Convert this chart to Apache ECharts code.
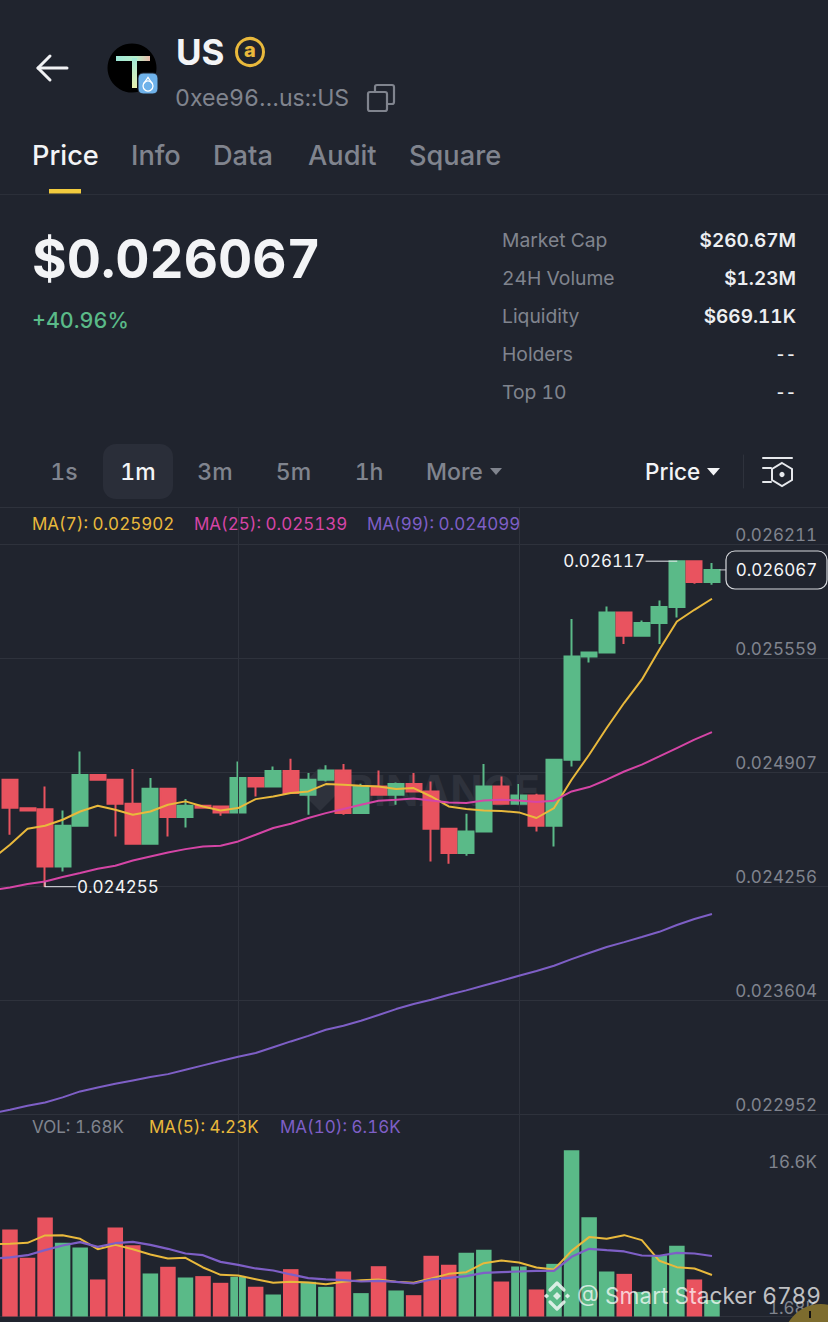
<!DOCTYPE html>
<html><head><meta charset="utf-8">
<script src="https://cdn.jsdelivr.net/npm/echarts@6/dist/echarts.min.js"></script>
<style>html,body{margin:0;padding:0;background:#20242e}#c{width:828px;height:1322px}#c text{font-feature-settings:"tnum" 1 !important;font-variant-numeric:tabular-nums !important}</style>
</head><body><div id="c"></div>
<script>
const priceTicks=[0.022952,0.023604,0.024256,0.024907,0.025559,0.026211];
const priceTickLabels=['0.022952','0.023604','0.024256','0.024907','0.025559','0.026211'];
const volTicks=[1.68,16.6];
const volTickLabels=['1.68K','16.6K'];
const open=[0.024867,0.024704,0.024698,0.024371,0.024604,0.024894,0.024867,0.024730,0.024501,0.024815,0.024653,0.024718,0.024714,0.024680,0.024877,0.024828,0.024917,0.024781,0.024867,0.024920,0.024676,0.024828,0.024781,0.024842,0.024800,0.024587,0.024448,0.024571,0.024828,0.024730,0.024777,0.024604,0.024981,0.025572,0.025595,0.025824,0.025690,0.025763,0.025855,0.026117,0.025998];
const close=[0.024707,0.024691,0.024371,0.024604,0.024894,0.024867,0.024730,0.024501,0.024815,0.024653,0.024718,0.024707,0.024680,0.024877,0.024828,0.024917,0.024791,0.024867,0.024920,0.024676,0.024828,0.024781,0.024842,0.024800,0.024587,0.024448,0.024571,0.024828,0.024730,0.024777,0.024604,0.024981,0.025572,0.025595,0.025824,0.025690,0.025763,0.025855,0.026117,0.025998,0.026067];
const low=[0.024552,0.024691,0.024255,0.024342,0.024604,0.024867,0.024542,0.024501,0.024501,0.024542,0.024594,0.024707,0.024661,0.024680,0.024771,0.024828,0.024791,0.024667,0.024857,0.024667,0.024676,0.024781,0.024724,0.024800,0.024399,0.024386,0.024432,0.024571,0.024730,0.024730,0.024571,0.024485,0.024943,0.025538,0.025595,0.025643,0.025690,0.025643,0.025795,0.025988,0.025982];
const high=[0.024867,0.024704,0.024828,0.024691,0.025029,0.024894,0.024867,0.024928,0.024877,0.024815,0.024756,0.024718,0.024714,0.024971,0.024877,0.024943,0.024987,0.024905,0.024949,0.024957,0.024844,0.024920,0.024851,0.024905,0.024857,0.024587,0.024672,0.024957,0.024886,0.024842,0.024787,0.024981,0.025786,0.025595,0.025858,0.025824,0.025778,0.025892,0.026117,0.026117,0.026106];
// first value of each MA belongs to the candle just off the left edge
const ma7=[0.024415,0.024495,0.024587,0.024604,0.024638,0.024685,0.024718,0.024695,0.024667,0.024685,0.024724,0.024743,0.024714,0.024691,0.024705,0.024756,0.024771,0.024791,0.024800,0.024842,0.024838,0.024832,0.024828,0.024814,0.024819,0.024771,0.024714,0.024699,0.024691,0.024688,0.024680,0.024648,0.024705,0.024867,0.025010,0.025163,0.025307,0.025439,0.025610,0.025772,0.025839,0.025902];
const ma25=[0.024235,0.024251,0.024270,0.024285,0.024310,0.024333,0.024358,0.024375,0.024405,0.024428,0.024451,0.024470,0.024485,0.024489,0.024514,0.024552,0.024591,0.024615,0.024648,0.024676,0.024699,0.024724,0.024747,0.024752,0.024760,0.024748,0.024737,0.024734,0.024748,0.024752,0.024748,0.024739,0.024747,0.024800,0.024825,0.024867,0.024914,0.024953,0.025000,0.025048,0.025096,0.025139];
const ma99=[0.022959,0.022979,0.023002,0.023021,0.023050,0.023084,0.023107,0.023128,0.023147,0.023166,0.023183,0.023208,0.023233,0.023258,0.023282,0.023304,0.023337,0.023370,0.023402,0.023437,0.023460,0.023488,0.023521,0.023555,0.023584,0.023608,0.023637,0.023662,0.023690,0.023717,0.023746,0.023773,0.023803,0.023841,0.023876,0.023910,0.023938,0.023967,0.023997,0.024036,0.024070,0.024099];
const volume=[8.86,5.97,10.08,7.50,7.02,3.77,9.06,7.26,4.38,5.06,3.97,4.11,3.43,4.04,3.02,2.24,4.82,3.53,3.02,4.58,2.38,5.12,2.65,2.17,6.18,5.26,6.48,6.79,3.56,5.09,2.75,5.36,16.93,10.11,4.58,4.34,2.51,6.24,7.19,3.77,1.68];
const volMa5=[7.35,7.40,7.50,8.25,8.28,7.91,6.85,7.29,6.85,6.31,5.90,5.97,4.99,4.24,4.17,3.80,3.43,3.53,3.46,3.29,3.53,3.70,3.77,3.53,3.43,3.87,4.34,4.51,5.43,5.70,5.50,4.99,4.78,6.68,8.08,7.91,8.28,7.77,5.67,5.02,4.89,4.23];
const volMa10=[5.90,6.01,6.24,6.75,7.23,7.57,7.09,7.46,7.60,7.29,6.89,6.41,6.24,5.56,5.26,4.89,4.68,4.28,3.90,3.77,3.70,3.56,3.63,3.53,3.36,3.77,3.94,4.11,4.44,4.51,4.58,4.65,4.65,6.07,6.89,6.75,6.62,6.21,6.18,6.48,6.41,6.16];
const gridIdx=[14,30];
const lowIdx=2, highIdx=38, lastIdx=40;

const BG='#20242e',UP='#5ABA88',DOWN='#E9535F',GRID='#2e323c',MUTED='#80848e',Y='#E9B93C',P='#D545A6',V='#7E5FC6';
const FONT='Inter, "Noto Sans", sans-serif';
const trail=7;
const cats=Array.from({length:1+open.length+trail},(_,i)=>String(i));
const pad=a=>a.concat(Array(cats.length-a.length).fill(null));
const candles=[['-','-','-','-']].concat(open.map((o,i)=>[o,close[i],low[i],high[i]])).concat(Array(trail).fill(['-','-','-','-']));
const bars=[null].concat(volume.map((v,i)=>({value:v,itemStyle:{color:close[i]>=open[i]?UP:DOWN}}))).concat(Array(trail).fill(null));
const vline={silent:true,symbol:'none',label:{show:false},lineStyle:{color:GRID,width:1,type:'solid'},data:gridIdx.map(i=>({xAxis:String(i)}))};
const line=(name,data,color,x,w)=>({name,type:'line',data:pad(data),xAxisIndex:x,yAxisIndex:x,symbol:'none',showSymbol:false,smooth:false,connectNulls:false,lineStyle:{color,width:w||2},z:5,silent:true});

const chart=echarts.init(document.getElementById('c'),null,{width:828,height:1322,renderer:'svg'});
const option={
 backgroundColor:BG,animation:false,
 grid:[{left:-16.35,top:507,width:859.95,height:607.5,outerBoundsMode:'none'},{left:-16.35,top:1114.5,width:859.95,height:202,outerBoundsMode:'none'}],
 xAxis:[
  {type:'category',gridIndex:0,data:cats,axisLine:{show:false},axisTick:{show:false},axisLabel:{show:false},splitLine:{show:false}},
  {type:'category',gridIndex:1,data:cats,axisLine:{show:true,lineStyle:{color:GRID}},axisTick:{show:false},axisLabel:{show:false},splitLine:{show:false}}],
 yAxis:[
  {type:'value',gridIndex:0,position:'right',min:0.022952,max:0.0264269,
   axisLine:{show:false},axisTick:{show:false,customValues:priceTicks},
   axisLabel:{inside:true,margin:26.6,customValues:priceTicks,color:MUTED,fontSize:17,fontFamily:FONT,verticalAlign:'bottom',lineHeight:19,formatter:v=>priceTickLabels[priceTicks.indexOf(v)]},
   splitLine:{show:true,lineStyle:{color:GRID,width:1}}},
  {type:'value',gridIndex:1,position:'right',min:0,max:20.56,
   axisLine:{show:false},axisTick:{show:false,customValues:volTicks},
   axisLabel:{inside:true,margin:26.6,customValues:volTicks,color:MUTED,fontSize:17,fontFamily:FONT,verticalAlign:'top',formatter:v=>volTickLabels[volTicks.indexOf(v)]},
   splitLine:{show:false}}],
 series:[
  {name:'Price',type:'candlestick',data:candles,xAxisIndex:0,yAxisIndex:0,barWidth:15.5,silent:true,
   itemStyle:{color:UP,color0:DOWN,borderColor:UP,borderColor0:DOWN,borderWidth:2},markLine:vline,z:3},
  line('MA7',ma7,Y,0),line('MA25',ma25,P,0),line('MA99',ma99,V,0),
  {name:'Volume',type:'bar',data:bars,xAxisIndex:1,yAxisIndex:1,barWidth:15.5,silent:true,markLine:vline,z:3},
  line('VolMA5',volMa5,Y,1),line('VolMA10',volMa10,V,1,2.2)
 ]
};
chart.setOption(option);

const t=(x,y,text,fill,size,weight,align,z)=>({type:'text',z:z||50,silent:true,style:{x,y:y,text,fill,font:(weight||400)+' '+size+'px '+FONT,textAlign:align||'left',textVerticalAlign:'middle'}});
const ln=(x1,y1,x2,y2,stroke,w,z)=>({type:'line',z:z||50,silent:true,shape:{x1,y1,x2,y2},style:{stroke,lineWidth:w||1,lineCap:'round'}});
const pl=(points,stroke,w,z)=>({type:'polyline',z:z||50,silent:true,shape:{points},style:{stroke,lineWidth:w,fill:null,lineCap:'round',lineJoin:'round'}});
const rr=(x,y,width,height,r,style,z)=>({type:'rect',z:z||50,silent:true,shape:{x,y,width,height,r},style});
const tri=(x,y,w,h,fill)=>({type:'polygon',z:50,silent:true,shape:{points:[[x,y],[x+w,y],[x+w/2,y+h]]},style:{fill}});

const g=[];
// header
g.push(pl([[50,56],[38,68],[50,80]],'#f1f2f4',3),ln(38,68,67,68,'#f1f2f4',3));
g.push({type:'circle',z:50,silent:true,shape:{cx:132,cy:68,r:24.5},style:{fill:'#000'}});
g.push(rr(116,56,34,5,0,{fill:new echarts.graphic.LinearGradient(0,0,1,0,[{offset:0,color:'#9fe8d8'},{offset:.6,color:'#b8eec8'},{offset:1,color:'#e8b8a8'}])}));
g.push(rr(132,58,5,30,0,{fill:new echarts.graphic.LinearGradient(0,0,0,1,[{offset:0,color:'#9fe8d8'},{offset:1,color:'#e8f0b0'}])}));
g.push(rr(138,73,20,21,5,{fill:'#6fb2ea',stroke:BG,lineWidth:1}));
g.push({type:'circle',z:51,silent:true,shape:{cx:148,cy:86,r:5},style:{fill:null,stroke:'#fff',lineWidth:1.3}});
g.push({type:'polyline',z:51,silent:true,shape:{points:[[143.8,83.5],[148,77.5],[152.2,83.5]]},style:{fill:null,stroke:'#fff',lineWidth:1.3}});
g.push(t(176,52,'US','#f3f4f6',35,700));
g.push({type:'circle',z:50,silent:true,shape:{cx:250,cy:52,r:13.5},style:{fill:null,stroke:'#E9B93C',lineWidth:3}});
g.push(t(250,50,'a','#E9B93C',20,800,'center'));
g.push(t(175,98,'0xee96…us::US',MUTED,23.1,400));
g.push(rr(375,85,19,19,2,{fill:null,stroke:MUTED,lineWidth:2.2}),rr(368,92,19,19,2,{fill:BG,stroke:MUTED,lineWidth:2.2}));
// tabs
[[32,'Price','#f3f4f6'],[131,'Info',MUTED],[213,'Data',MUTED],[308,'Audit',MUTED],[409,'Square',MUTED]].forEach(a=>g.push(t(a[0],155,a[1],a[2],27.2,500)));
g.push(rr(49,189,32,4.5,0,{fill:'#F2CB3E'}),ln(0,194.5,828,194.5,'#2b2f39',1));
// price
g.push(t(32,259,'$0.026067','#f3f4f6',53,700),t(32,320,'+40.96%','#5ABA88',21.5,500));
[['Market Cap','$260.67M',240],['24H Volume','$1.23M',278],['Liquidity','$669.11K',316],['Holders','--',354],['Top 10','--',392]].forEach(a=>{
 g.push(t(502,a[2],a[0],MUTED,19.3,400),t(796,a[2],a[1],'#eceef1',a[1]==='--'?16:19,600,'right'));});
// intervals
g.push(rr(103,444,70,55,13,{fill:'#2a2e39'}));
[[64,'1s',MUTED],[138,'1m','#f3f4f6'],[215,'3m',MUTED],[293.5,'5m',MUTED],[369,'1h',MUTED]].forEach(a=>g.push(t(a[0],471.5,a[1],a[2],23,500,'center')));
g.push(t(426,471.5,'More',MUTED,23,500),tri(490,468,12,7,MUTED));
g.push(t(645,471.5,'Price','#f3f4f6',22.5,500),tri(707,468,13,7.5,'#f3f4f6'));
g.push(ln(743.5,455,743.5,488,'#2e323c',1));
g.push(ln(763,458,792,458,'#e6e8ec',2),ln(763,468,771,468,'#e6e8ec',2),ln(763,482,771,482,'#e6e8ec',2));
g.push({type:'polygon',z:50,silent:true,shape:{points:[[782,463],[792,469],[792,480],[782,486],[772,480],[772,469]]},style:{fill:null,stroke:'#e6e8ec',lineWidth:2}});
g.push({type:'circle',z:50,silent:true,shape:{cx:782,cy:474.5,r:2.6},style:{fill:'#e6e8ec'}});
// chart legends
g.push(ln(0,507.5,828,507.5,GRID,1));
g.push(t(32,524,'MA(7): 0.025902',Y,17,400),t(194,524,'MA(25): 0.025139',P,17,400),t(367,524,'MA(99): 0.024099',V,17,400));
g.push(t(32,1126.5,'VOL: 1.68K',MUTED,17,400),t(149,1126.5,'MA(5): 4.23K',Y,17,400),t(280,1126.5,'MA(10): 6.16K',V,17,400));
// exchange watermark
g.push({type:'polygon',z:1,silent:true,shape:{points:[[320,767],[342,789],[320,811],[298,789]]},style:{fill:'#2e323c'}});
g.push({type:'text',z:1,silent:true,style:{x:346,y:790,text:'BINANCE',fill:'#2e323c',font:'700 42.5px '+FONT,textVerticalAlign:'middle'}});
// value annotations anchored on the data
const px=(i,v)=>chart.convertToPixel({gridIndex:0},[String(i+1),v]);
const pHi=px(highIdx,high[highIdx]), pLo=px(lowIdx,low[lowIdx]), pLast=px(lastIdx,close[lastIdx]);
g.push(ln(646,pHi[1],pHi[0],pHi[1],'#e8eaee',1),t(645,pHi[1],'0.026117','#f3f4f6',17,400,'right'));
g.push(ln(pLo[0],pLo[1],76,pLo[1],'#e8eaee',1),ln(pLo[0],pLo[1]-4,pLo[0],pLo[1],'#e8eaee',1),t(77,pLo[1],'0.024255','#f3f4f6',17,400));
g.push(ln(720,pLast[1],727,pLast[1],'#c8cad0',1),rr(726,551,101,38,9,{fill:BG,stroke:'#d6d8dc',lineWidth:1.2}),t(776.5,pLast[1],'0.026067','#f3f4f6',17,400,'center'));
// corner overlay and credit
g.push({type:'circle',z:60,silent:true,shape:{cx:821,cy:1342,r:38},style:{fill:'#7d6c2e'}});
g.push(rr(809,1311,2,7,0,{fill:'#111'},61));
const dm=(cx,cy,r)=>({type:'polygon',z:70,silent:true,shape:{points:[[cx,cy-r],[cx+r,cy],[cx,cy+r],[cx-r,cy]]},style:{fill:'rgba(235,245,240,.88)'}});
g.push(dm(557,1296,4),dm(546.5,1296,2.6),dm(567.5,1296,2.6));
g.push(pl([[550,1290],[557,1283],[564,1290]],'rgba(235,245,240,.88)',3.2,70),pl([[550,1302],[557,1309],[564,1302]],'rgba(235,245,240,.88)',3.2,70));
g.push(t(577,1295,'@ Smart Stacker 6789','rgba(255,255,255,.72)',22.7,400,'left',70));
chart.setOption({graphic:{elements:g}});
</script></body></html>
